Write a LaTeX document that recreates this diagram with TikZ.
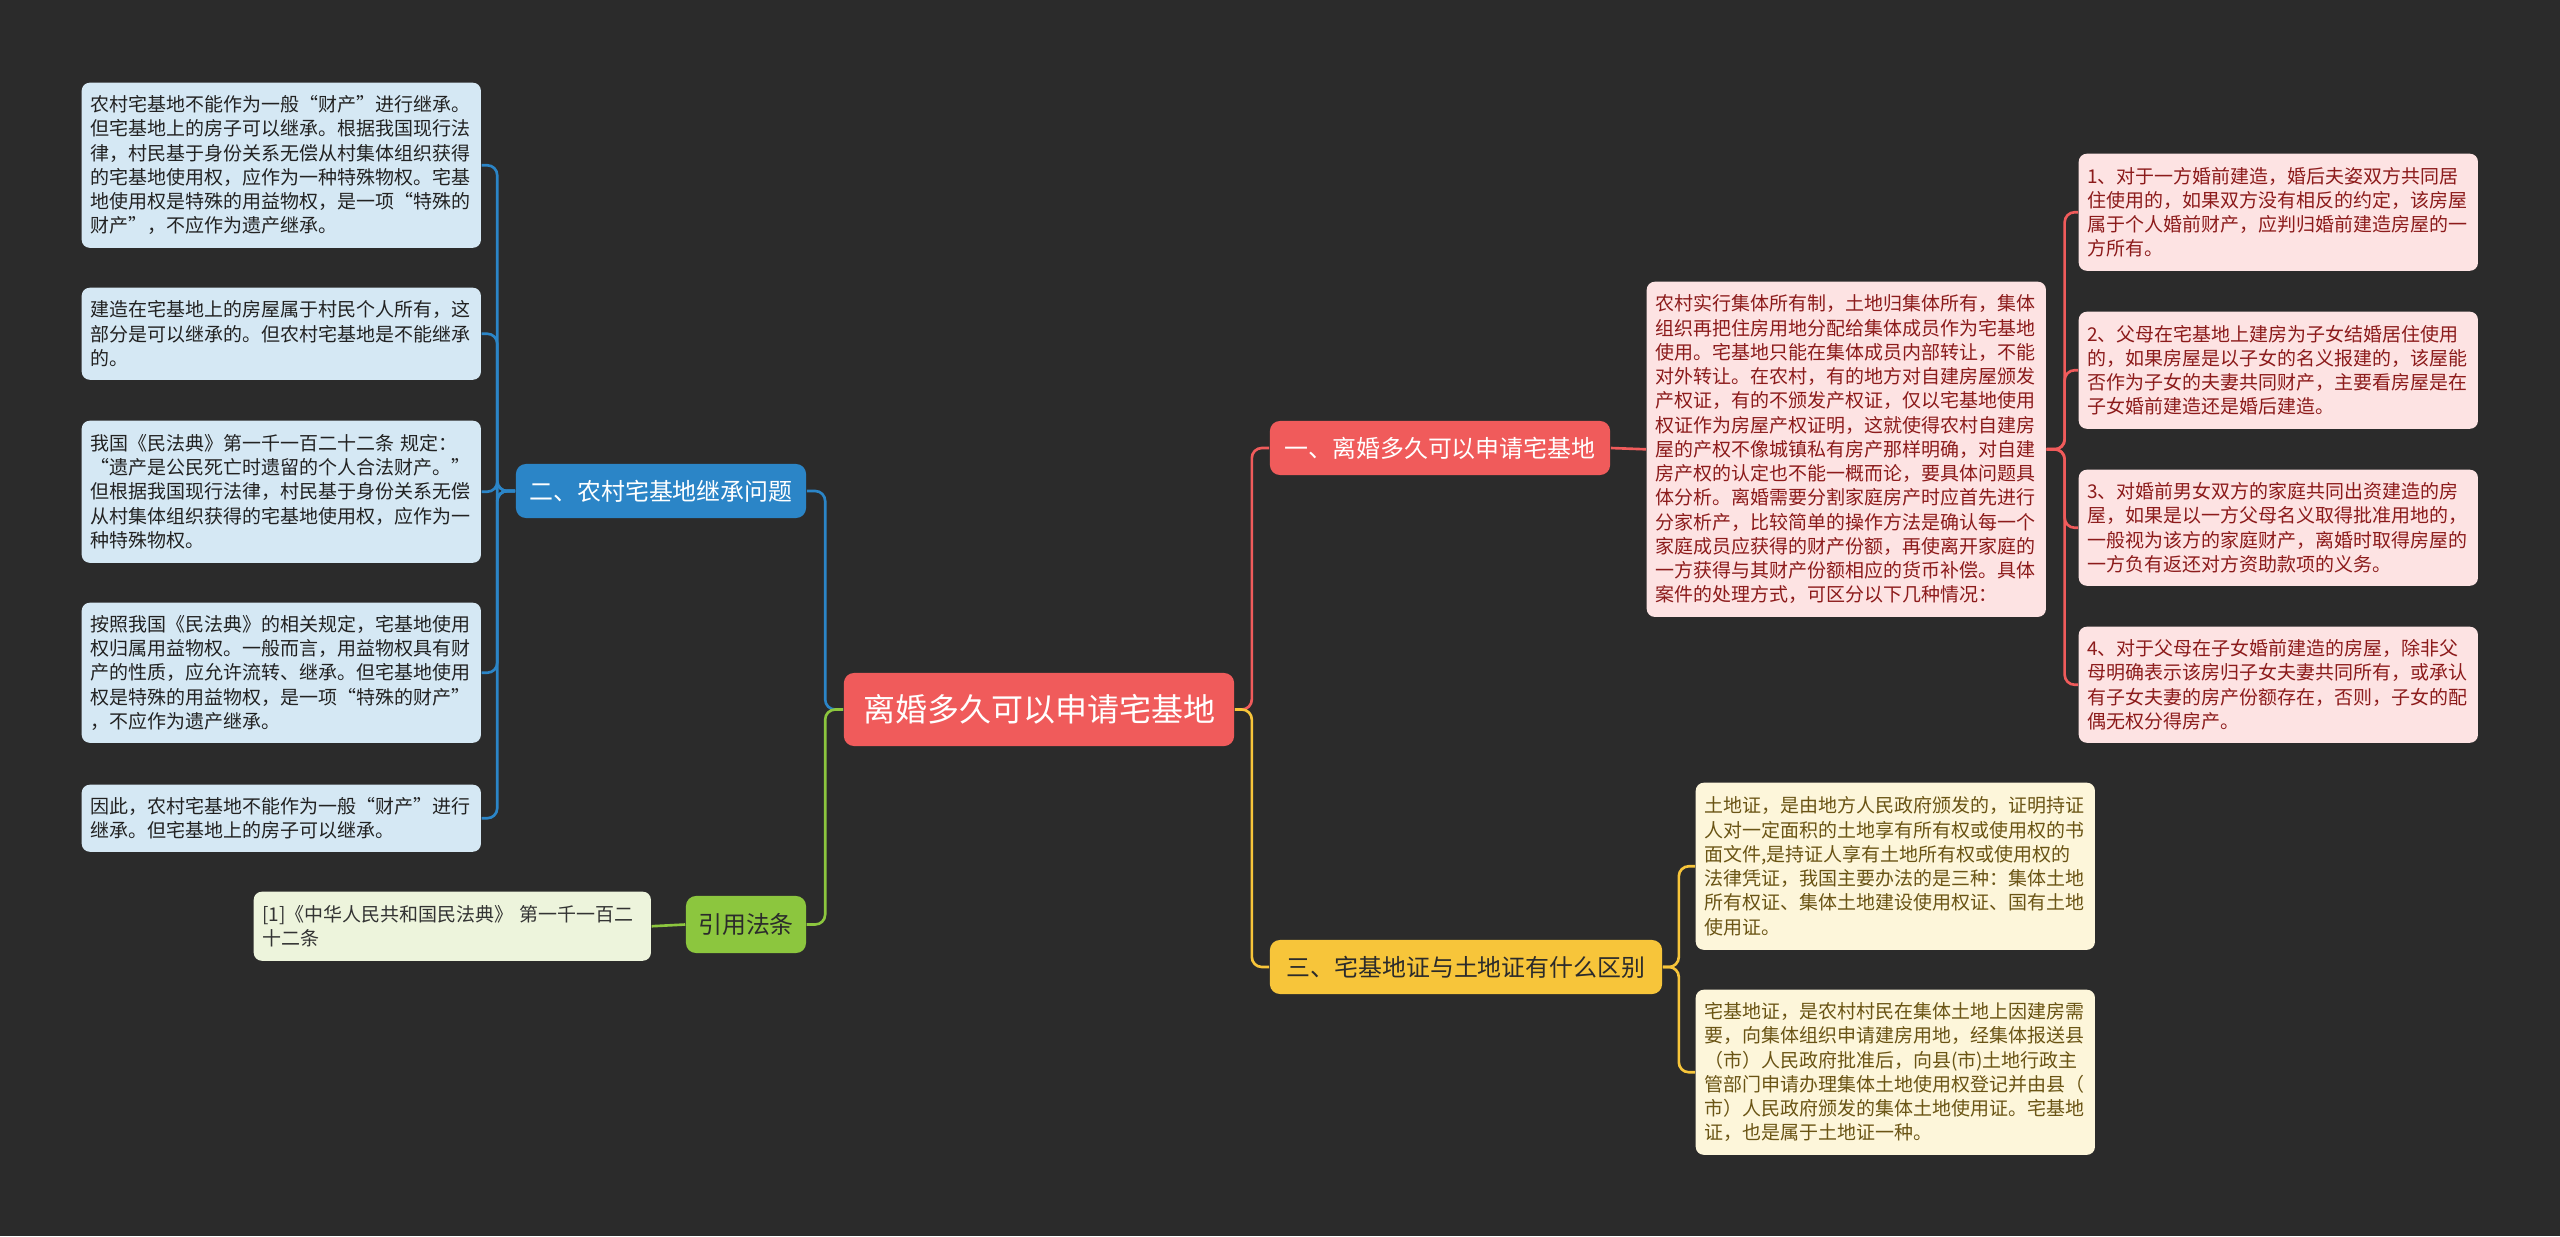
\documentclass[tikz,border=0pt]{standalone}
\usepackage{fontspec}
\setmainfont{Noto Sans CJK SC}
\definecolor{bgc}{HTML}{2B2B2B}
\definecolor{cred}{HTML}{F05B5B}
\definecolor{cblue}{HTML}{2B85C7}
\definecolor{cyellow}{HTML}{F7C53A}
\definecolor{cgreen}{HTML}{8CC63E}
\definecolor{lbfill}{HTML}{D5E8F4}
\definecolor{lbtext}{HTML}{222222}
\definecolor{pkfill}{HTML}{FDE3E3}
\definecolor{pktext}{HTML}{8C1B1B}
\definecolor{crfill}{HTML}{FDF6DA}
\definecolor{crtext}{HTML}{6A5414}
\definecolor{rffill}{HTML}{EDF4DC}
\definecolor{rftext}{HTML}{333333}
\begin{document}
\begin{tikzpicture}[x=0.01cm,y=-0.01cm,
  txtbox/.style={anchor=north west, rounded corners=0.8mm, align=left,
    inner xsep=0.085cm, inner ysep=0pt, text width=3.82cm, minimum width=3.99cm,
    font=\fontsize{5.4pt}{6.9pt}\selectfont},
  lbox/.style={txtbox, fill=lbfill, text=lbtext},
  pbox/.style={txtbox, fill=pkfill, text=pktext},
  ybox/.style={txtbox, fill=crfill, text=crtext},
  rbox/.style={txtbox, fill=rffill, text=rftext},
  topic/.style={rounded corners=1mm, inner sep=0pt, font=\fontsize{6.8pt}{8pt}\selectfont},
  conn/.style={line width=0.75pt, rounded corners=0.1cm}
]
\fill[bgc] (0,0) rectangle (2560,1236);
\useasboundingbox (0,0) rectangle (2560,1236);

% central topic
\node[topic, fill=cred, text=white, minimum width=3.90cm, minimum height=0.73cm,
  font=\fontsize{9.1pt}{11pt}\selectfont] (c) at (1039,709.5) {离婚多久可以申请宅基地};

% main branches
\node[topic, fill=cred, text=white, minimum width=3.40cm, minimum height=0.54cm] (b1) at (1440,448) {一、离婚多久可以申请宅基地};
\node[topic, fill=cyellow, text=bgc, minimum width=3.92cm, minimum height=0.54cm] (b3) at (1466,967) {三、宅基地证与土地证有什么区别};
\node[topic, fill=cblue, text=white, minimum width=2.90cm, minimum height=0.54cm] (b2) at (661,491) {二、农村宅基地继承问题};
\node[topic, fill=cgreen, text=bgc, minimum width=1.20cm, minimum height=0.57cm] (b4) at (746,924.5) {引用法条};

% left boxes
\node[lbox, minimum height=1.65cm] (l1) at (81,82) {农村宅基地不能作为一般“财产”进行继承。\\但宅基地上的房子可以继承。根据我国现行法\\律，村民基于身份关系无偿从村集体组织获得\\的宅基地使用权，应作为一种特殊物权。宅基\\地使用权是特殊的用益物权，是一项“特殊的\\财产”，不应作为遗产继承。};
\node[lbox, minimum height=0.92cm] (l2) at (81,287) {建造在宅基地上的房屋属于村民个人所有，这\\部分是可以继承的。但农村宅基地是不能继承\\的。};
\node[lbox, minimum height=1.42cm] (l3) at (81,420) {我国《民法典》第一千一百二十二条~规定：\\“遗产是公民死亡时遗留的个人合法财产。”\\但根据我国现行法律，村民基于身份关系无偿\\从村集体组织获得的宅基地使用权，应作为一\\种特殊物权。};
\node[lbox, minimum height=1.40cm] (l4) at (81,602) {按照我国《民法典》的相关规定，宅基地使用\\权归属用益物权。一般而言，用益物权具有财\\产的性质，应允许流转、继承。但宅基地使用\\权是特殊的用益物权，是一项“特殊的财产”\\，不应作为遗产继承。};
\node[lbox, minimum height=0.67cm] (l5) at (81,784) {因此，农村宅基地不能作为一般“财产”进行\\继承。但宅基地上的房子可以继承。};

% reference box
\node[rbox, minimum height=0.69cm, minimum width=3.97cm, text width=3.80cm] (rf) at (253,891) {[1]《中华人民共和国民法典》~第一千一百二\\十二条};

% right red boxes
\node[pbox, minimum height=3.35cm, minimum width=3.98cm] (r0) at (1646,281) {农村实行集体所有制，土地归集体所有，集体\\组织再把住房用地分配给集体成员作为宅基地\\使用。宅基地只能在集体成员内部转让，不能\\对外转让。在农村，有的地方对自建房屋颁发\\产权证，有的不颁发产权证，仅以宅基地使用\\权证作为房屋产权证明，这就使得农村自建房\\屋的产权不像城镇私有房产那样明确，对自建\\房产权的认定也不能一概而论，要具体问题具\\体分析。离婚需要分割家庭房产时应首先进行\\分家析产，比较简单的操作方法是确认每一个\\家庭成员应获得的财产份额，再使离开家庭的\\一方获得与其财产份额相应的货币补偿。具体\\案件的处理方式，可区分以下几种情况：};
\node[pbox, minimum height=1.17cm] (r1) at (2078,153) {1、对于一方婚前建造，婚后夫姿双方共同居\\住使用的，如果双方没有相反的约定，该房屋\\属于个人婚前财产，应判归婚前建造房屋的一\\方所有。};
\node[pbox, minimum height=1.17cm] (r2) at (2078,311) {2、父母在宅基地上建房为子女结婚居住使用\\的，如果房屋是以子女的名义报建的，该屋能\\否作为子女的夫妻共同财产，主要看房屋是在\\子女婚前建造还是婚后建造。};
\node[pbox, minimum height=1.16cm] (r3) at (2078,469) {3、对婚前男女双方的家庭共同出资建造的房\\屋，如果是以一方父母名义取得批准用地的，\\一般视为该方的家庭财产，离婚时取得房屋的\\一方负有返还对方资助款项的义务。};
\node[pbox, minimum height=1.16cm] (r4) at (2078,626) {4、对于父母在子女婚前建造的房屋，除非父\\母明确表示该房归子女夫妻共同所有，或承认\\有子女夫妻的房产份额存在，否则，子女的配\\偶无权分得房产。};

% yellow boxes
\node[ybox, minimum height=1.67cm, minimum width=3.97cm] (y1) at (1695,782) {土地证，是由地方人民政府颁发的，证明持证\\人对一定面积的土地享有所有权或使用权的书\\面文件,是持证人享有土地所有权或使用权的\\法律凭证，我国主要办法的是三种：集体土地\\所有权证、集体土地建设使用权证、国有土地\\使用证。};
\node[ybox, minimum height=1.65cm, minimum width=3.97cm] (y2) at (1695,989) {宅基地证，是农村村民在集体土地上因建房需\\要，向集体组织申请建房用地，经集体报送县\\（市）人民政府批准后，向县(市)土地行政主\\管部门申请办理集体土地使用权登记并由县（\\市）人民政府颁发的集体土地使用证。宅基地\\证，也是属于土地证一种。};

% connectors: center
\draw[conn, cred] (c.east) -- ++(17,0) |- (b1.west);
\draw[conn, cyellow] (c.east) -- ++(17,0) |- (b3.west);
\draw[conn, cblue] (c.west) -- ++(-18,0) |- (b2.east);
\draw[conn, cgreen] (c.west) -- ++(-18,0) |- (b4.east);

% branch 1
\draw[conn, cred] (b1.east) -- (r0.west);
\foreach \n in {r1,r2,r3,r4} \draw[conn, cred] (r0.east) -- ++(18,0) |- (\n.west);

% branch 3
\foreach \n in {y1,y2} \draw[conn, cyellow] (b3.east) -- ++(16,0) |- (\n.west);

% branch 2
\foreach \n in {l1,l2,l3,l4,l5} \draw[conn, cblue] (b2.west) -- ++(-18,0) |- (\n.east);

% branch 4
\draw[conn, cgreen] (b4.west) -- (rf.east);
\end{tikzpicture}
\end{document}
